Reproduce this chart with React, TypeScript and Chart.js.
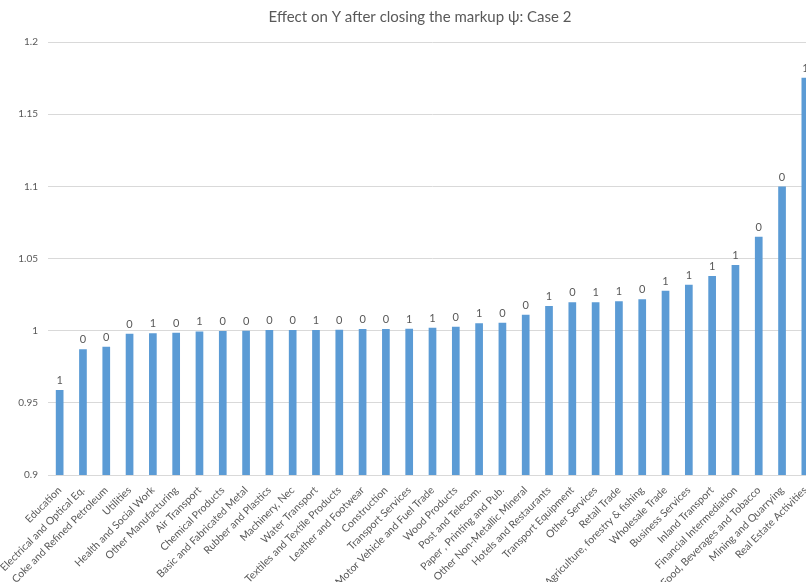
import React, { useEffect, useRef } from "react";
import { Chart, registerables } from "chart.js";

Chart.register(...registerables);

const categories = [
  "Education",
  "Electrical and Optical Eq.",
  "Coke and Refined Petroleum",
  "Utilities",
  "Health and Social Work",
  "Other Manufacturing",
  "Air Transport",
  "Chemical Products",
  "Basic and Fabricated Metal",
  "Rubber and Plastics",
  "Machinery, Nec",
  "Water Transport",
  "Textiles and Textile Products",
  "Leather and Footwear",
  "Construction",
  "Transport Services",
  "Motor Vehicle and Fuel Trade",
  "Wood Products",
  "Post and Telecom.",
  "Paper , Printing and Pub.",
  "Other Non-Metallic Mineral",
  "Hotels and Restaurants",
  "Transport Equipment",
  "Other Services",
  "Retail Trade",
  "Agriculture, forestry & fishing",
  "Wholesale Trade",
  "Business Services",
  "Inland Transport",
  "Financial Intermediation",
  "Food, Beverages and Tobacco",
  "Mining and Quarrying",
  "Real Estate Activities",
];

const values = [
  0.9589, 0.9871, 0.9889, 0.9979, 0.9982, 0.9986, 0.9995, 0.9998, 0.9999,
  1.0005, 1.0005, 1.0005, 1.0007, 1.0012, 1.0012, 1.0014, 1.0021, 1.0028,
  1.0051, 1.0055, 1.0111, 1.0171, 1.0197, 1.0197, 1.0203, 1.0217, 1.0277,
  1.0318, 1.0379, 1.0455, 1.0651, 1.0998, 1.1753,
];

const dataLabels = [
  "1", "0", "0", "0", "1", "0", "1", "0", "0", "0", "0", "1", "0", "0", "0",
  "1", "1", "0", "1", "0", "0", "1", "0", "1", "1", "0", "1", "1", "1", "1",
  "0", "0", "1",
];

const yMin = 0.9;
const yMax = 1.2;
const yStep = 0.05;

const titleText = "Effect on Y after closing the markup \u03c8: Case 2";

const labelPlugin = {
  id: "barLabels",
  afterDatasetsDraw(chart: any) {
    const ctx = chart.ctx;
    const meta = chart.getDatasetMeta(0);
    ctx.save();
    ctx.fillStyle = "#595959";
    ctx.font = "11px Lato";
    ctx.textAlign = "center";
    ctx.textBaseline = "alphabetic";
    meta.data.forEach((el: any, i: number) => {
      ctx.fillText(dataLabels[i], el.x, el.y - 6);
    });
    ctx.restore();
  },
};

const titlePlugin = {
  id: "customTitle",
  afterDraw(chart: any) {
    const ctx = chart.ctx;
    ctx.save();
    ctx.fillStyle = "#595959";
    ctx.font = "15px Lato";
    ctx.textAlign = "center";
    ctx.textBaseline = "middle";
    ctx.fillText(titleText, chart.width / 2, 17);
    ctx.restore();
  },
};

export default function App() {
  const ref = useRef<HTMLCanvasElement | null>(null);
  useEffect(() => {
    if (!ref.current) return;
    const chart = new Chart(ref.current, {
      type: "bar",
      data: {
        labels: categories,
        datasets: [
          {
            data: values,
            backgroundColor: "#5B9BD5",
            borderWidth: 0,
            barPercentage: 1,
            categoryPercentage: 0.33,
          },
        ],
      },
      options: {
        animation: false,
        responsive: false,
        layout: { padding: { left: 0, right: 23, top: 42, bottom: 0 } },
        plugins: {
          legend: { display: false },
          tooltip: { enabled: false },
          title: { display: false },
        },
        scales: {
          x: {
            grid: { display: false, drawTicks: false },
            border: { display: true, color: "#d9d9d9" },
            ticks: {
              color: "#595959",
              font: { family: "Lato", size: 10.5 },
              maxRotation: 45,
              minRotation: 45,
              autoSkip: false,
              padding: 9,
            },
            afterFit(scale: any) {
              scale.height = 107;
            },
          },
          y: {
            min: yMin,
            max: yMax,
            grid: { color: "#d9d9d9", drawTicks: false },
            border: { display: false },
            ticks: {
              stepSize: yStep,
              color: "#595959",
              font: { family: "Lato", size: 10 },
              padding: 10,
              callback: (v: any) => String(parseFloat(Number(v).toFixed(2))),
            },
            afterFit(scale: any) {
              scale.width = 48;
            },
          },
        },
      },
      plugins: [labelPlugin, titlePlugin],
    });
    return () => chart.destroy();
  }, []);

  return (
    <div
      style={{
        position: "fixed",
        left: 0,
        top: 0,
        width: 806,
        height: 582,
        overflow: "hidden",
        background: "#fff",
      }}
    >
      <canvas ref={ref} width={840} height={582} style={{ display: "block" }} />
    </div>
  );
}
